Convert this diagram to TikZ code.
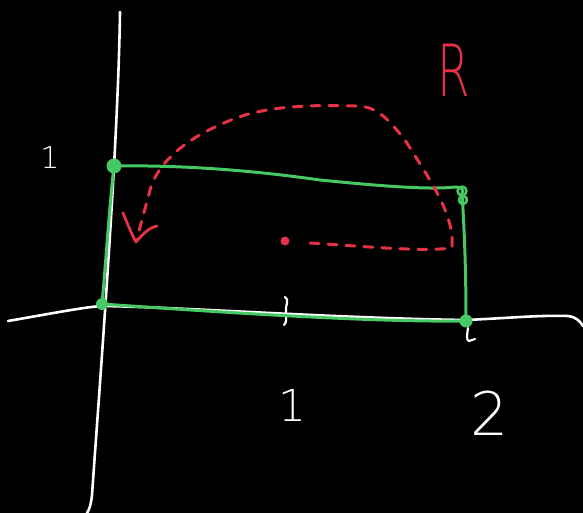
\documentclass[tikz,border=0pt]{standalone}
\usepackage{fontspec}
\setmainfont{DejaVu Sans}
\newfontfamily\thinfont{DejaVu Sans ExtraLight}
\begin{document}
\begin{tikzpicture}[x=1pt,y=-1pt,
  axis/.style={white,line width=2.6pt,line cap=round},
  edge/.style={color={rgb,255:red,70;green,200;blue,100},line width=3pt,line cap=round,line join=round},
  dot/.style={circle,fill={rgb,255:red,70;green,200;blue,100},inner sep=0pt,minimum size=15pt},
  path/.style={color={rgb,255:red,230;green,50;blue,70},line width=3pt,dash pattern=on 9pt off 9pt,line cap=round},
  lbl/.style={white,font=\thinfont\fontsize{44}{44}\selectfont}]
\fill[black] (0,0) rectangle (583,513);
\useasboundingbox (0,0) rectangle (583,513);
% axes
\draw[axis] (120,12) .. controls (118,150) and (100,380) .. (92,495) .. controls (91,505) and (89,510) .. (87,513);
\draw[axis] (8,321) .. controls (60,312) and (90,306) .. (105,306) .. controls (200,308) and (330,318) .. (466,320) .. controls (510,318) and (540,315) .. (568,316) .. controls (576,317) and (580,321) .. (583,326);
% ticks
\draw[axis,line width=2.2pt] (285,297) .. controls (290,300) and (285,305) .. (286,312) .. controls (286,318) and (287,322) .. (284,325);
\draw[axis,line width=2.2pt] (468,328) .. controls (467,335) and (466,340) .. (469,341) -- (475,339);
% rectangle
\coordinate (tl) at (114,166);
\coordinate (tr) at (462,193);
\coordinate (br) at (466,321);
\coordinate (bl) at (102,304);
\draw[edge] (tl) .. controls (180,165) and (250,170) .. (320,180) .. controls (380,186) and (430,190) .. (455,187) .. controls (462,187) and (464,190) .. (tr)
  .. controls (465,240) and (466,280) .. (br)
  .. controls (380,322) and (260,315) .. (bl)
  .. controls (106,260) and (110,200) .. (tl);
\node[dot] (d1) at (tl) {};
\node[dot,minimum size=12pt] (d2) at (bl) {};
\node[dot,minimum size=13pt] (d3) at (br) {};
\draw[edge,line width=2.6pt] (462,191) circle (4.5pt);
\draw[edge,line width=2.6pt] (463,200) circle (4pt);
% red path
\node[circle,fill={rgb,255:red,230;green,50;blue,70},inner sep=0pt,minimum size=9pt] (c) at (285,241) {};
\coordinate (p0) at (310,243);
\coordinate (pa) at (137,240);
\draw[path] (p0) .. controls (360,246) and (420,252) .. (452,248)
  .. controls (455,215) and (430,180) .. (405,140)
  .. controls (385,115) and (375,106) .. (355,106)
  .. controls (320,105) and (280,105) .. (245,115)
  .. controls (200,130) and (160,155) .. (150,190)
  .. controls (145,210) and (140,225) .. (pa);
\draw[color={rgb,255:red,230;green,50;blue,70},line width=2.8pt,line cap=round,line join=round]
  (123,213) .. controls (128,225) and (132,235) .. (136,242) .. controls (142,235) and (148,228) .. (157,226);
% labels
\node[color={rgb,255:red,230;green,50;blue,70},font=\thinfont\fontsize{72}{72}\selectfont,xscale=0.65] (R) at (454,70) {R};
\node[lbl,font=\thinfont\fontsize{30}{30}\selectfont] (y1) at (50,158) {1};
\node[lbl] (x1) at (292,405) {1};
\node[lbl,font=\thinfont\fontsize{60}{60}\selectfont] (x2) at (490,413) {2};
\end{tikzpicture}
\end{document}
